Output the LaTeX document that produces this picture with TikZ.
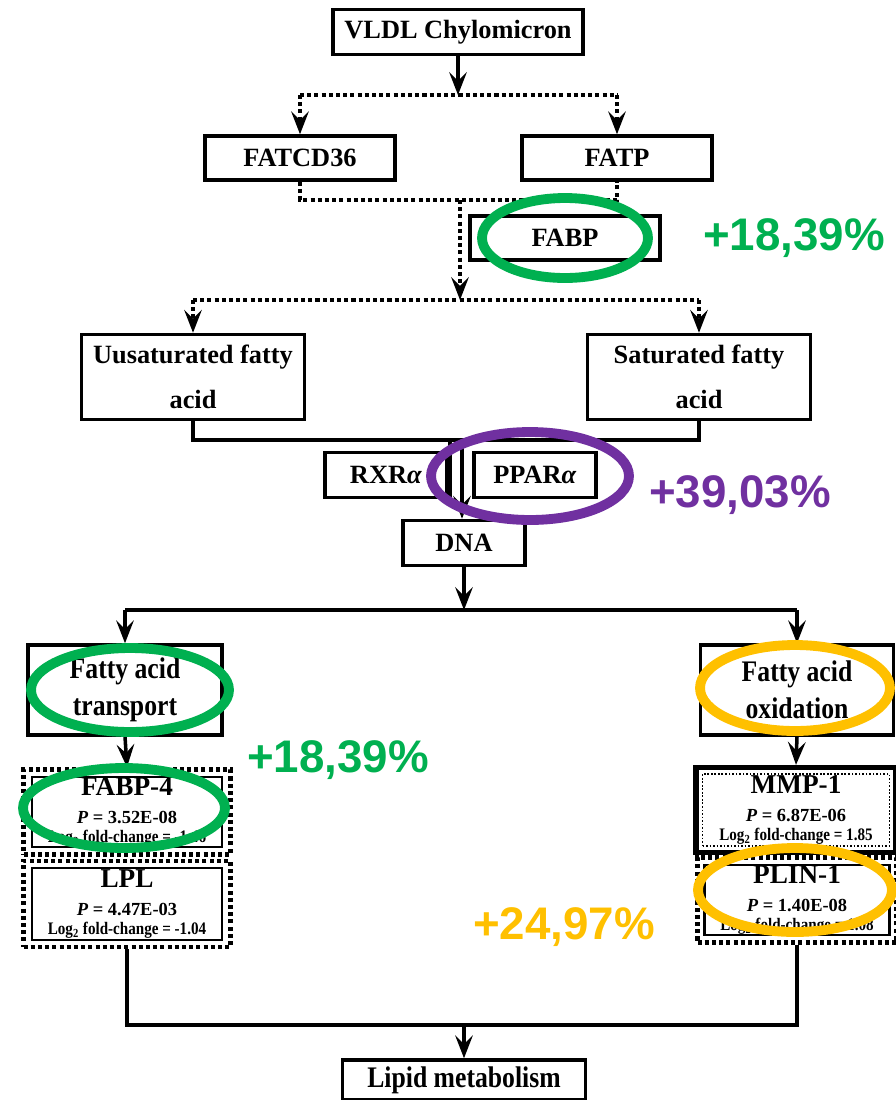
\documentclass[tikz,border=0pt]{standalone}
\usepackage{fontspec}
\setmainfont{Liberation Serif}
\newfontfamily\narrowfont[FakeStretch=0.86]{Liberation Serif}
\newfontfamily\pctfont{Liberation Sans}
\usetikzlibrary{arrows.meta}

\definecolor{ringgreen}{RGB}{0,176,80}
\definecolor{ringpurple}{RGB}{112,48,160}
\definecolor{ringorange}{RGB}{255,192,0}

\tikzset{
	box/.style={draw, line width=2pt, inner sep=0pt, align=center, font=\bfseries\fontsize{15}{18}\selectfont},
	narrowbox/.style={box, font=\narrowfont\bfseries\fontsize{17}{20}\selectfont},
	genebox/.style={box, line width=1.2pt, font=\bfseries\fontsize{10.5}{10}\selectfont},
	dotline/.style={line width=2.6pt, dash pattern=on 2.3pt off 1.8pt},
	arr/.style={-{Stealth[length=13pt,width=10pt,inset=5pt]}},
	ring/.style={line width=5.6pt},
	pct/.style={font=\pctfont\bfseries\fontsize{26}{30}\selectfont},
}

\newcommand{\genetext}[3]{{\fontsize{15.5}{10}\selectfont #1}\\[6pt]%
	\textit{P} = #2\\[1pt]%
	{\narrowfont\bfseries\fontsize{10}{10}\selectfont Log\textsubscript{2} fold-change = #3}}

\begin{document}
\begin{tikzpicture}[x=0.02cm, y=-0.02cm, line width=2pt]
		\useasboundingbox (0,0) rectangle (896,1100);
		
		% upper chain
		\node[box, minimum width=5cm, minimum height=0.9cm] (vldl) at (458,32) {VLDL Chylomicron};
		\node[box, minimum width=3.8cm, minimum height=0.88cm] (fatcd) at (300,158) {FATCD36};
		\node[box, minimum width=3.8cm, minimum height=0.88cm] (fatp) at (617,158) {FATP};
		\node[box, minimum width=3.8cm, minimum height=0.88cm] (fabp) at (565,238) {FABP};
		\node[box, minimum width=4.46cm, minimum height=1.7cm] (unsat) at (193,377) {Uusaturated fatty\\[8pt]acid};
		\node[box, minimum width=4.46cm, minimum height=1.7cm] (sat) at (699,377) {Saturated fatty\\[8pt]acid};
		\node[box, minimum width=2.44cm, minimum height=0.9cm] (rxr) at (386,475) {RXR\textit{α}};
		\node[box, minimum width=2.44cm, minimum height=0.9cm] (ppar) at (535,475) {PPAR\textit{α}};
		\node[box, minimum width=2.44cm, minimum height=0.9cm] (dna) at (464,543) {DNA};
		
		% lower part
		\node[narrowbox, minimum width=3.88cm, minimum height=1.8cm] (trans) at (125,690) {Fatty acid\\[1pt]transport};
		\node[narrowbox, minimum width=3.86cm, minimum height=1.8cm] (oxid) at (797,690) {Fatty acid\\[1pt]oxidation};
		
		\node[draw, dotline, minimum width=4.14cm, minimum height=1.7cm] (fabp4o) at (127,812) {};
		\node[genebox, minimum width=3.8cm, minimum height=1.38cm] (fabp4) at (127,812) {\genetext{FABP-4}{3.52E-08}{-1.46}};
		\node[draw, dotline, minimum width=4.14cm, minimum height=1.72cm] (lplo) at (127,904) {};
		\node[genebox, minimum width=3.8cm, minimum height=1.44cm] (lpl) at (127,904) {\genetext{LPL}{4.47E-03}{-1.04}};
		
		\node[draw, line width=3pt, minimum width=4cm, minimum height=1.7cm] (mmp1o) at (796,810) {};
		\node[genebox, line width=1pt, dash pattern=on 1pt off 1pt, minimum width=3.74cm, minimum height=1.44cm] (mmp1) at (796,810) {\genetext{MMP-1}{6.87E-06}{1.85}};
		\node[draw, dotline, minimum width=3.98cm, minimum height=1.7cm] (plin1o) at (797,900) {};
		\node[genebox, minimum width=3.7cm, minimum height=1.4cm] (plin1) at (797,900) {\genetext{PLIN-1}{1.40E-08}{1.08}};
		
		\node[narrowbox, minimum width=4.86cm, minimum height=0.8cm] (lipid) at (464,1080) {Lipid metabolism};
		
		\coordinate (top split) at (458,95);
		\coordinate (fat join) at (460,200);
		\coordinate (acid split) at (460,300);
		\coordinate (acid join) at (462,440);
		\coordinate (rxr link) at (450,500);
		\coordinate (dna split) at (464,610);
		\coordinate (lipid join) at (464,1025);
		
		% connectors
		\draw[arr] (vldl.south) -- (top split);
		\draw[dotline] (fatcd.north |- top split) -- (fatp.north |- top split);
		\draw[dotline, arr] (fatcd.north |- top split) -- (fatcd.north);
		\draw[dotline, arr] (fatp.north |- top split) -- (fatp.north);
		\draw[dotline] (fatcd.south) -- (fatcd.south |- fat join) -- (fatp.south |- fat join) -- (fatp.south);
		\draw[dotline, arr] (fat join) -- (acid split);
		\draw[dotline] (unsat.north |- acid split) -- (sat.north |- acid split);
		\draw[dotline, arr] (unsat.north |- acid split) -- (unsat.north);
		\draw[dotline, arr] (sat.north |- acid split) -- (sat.north);
		
		\draw (unsat.south) -- (unsat.south |- acid join) -- (sat.south |- acid join) -- (sat.south);
		\draw (rxr link |- acid join) -- (rxr link);
		\draw[arr] (acid join) -- (acid join |- dna.north);
		
		\draw[arr] (dna.south) -- (dna split);
		\draw (trans.north |- dna split) -- (oxid.north |- dna split);
		\draw[arr] (trans.north |- dna split) -- (trans.north);
		\draw[arr] (oxid.north |- dna split) -- (oxid.north);
		\draw[arr] (trans.south) -- (fabp4o.north);
		\draw[arr] (oxid.south) -- (mmp1o.north);
		
		\draw (lplo.south) -- (lplo.south |- lipid join) -- (plin1o.south |- lipid join) -- (plin1o.south);
		\draw[arr] (lipid join) -- (lipid.north);
		
		% highlights
		\draw[ring, ringgreen] (565,238) ellipse [x radius=1.66cm, y radius=0.8cm];
		\draw[ring, ringpurple] (530,476) ellipse [x radius=1.98cm, y radius=0.88cm];
		\draw[ring, ringgreen] (130,690) ellipse [x radius=1.98cm, y radius=0.84cm];
		\draw[ring, ringorange] (795,688) ellipse [x radius=1.9cm, y radius=0.86cm];
		\draw[ring, ringgreen] (124,808) ellipse [x radius=2.02cm, y radius=0.8cm];
		\draw[ring, ringorange] (795,890) ellipse [x radius=1.94cm, y radius=0.84cm];
		
		\node[pct, text=ringgreen] (fabp pct) at (794,238) {+18,39\%};
		\node[pct, text=ringpurple] (ppar pct) at (740,495) {+39,03\%};
		\node[pct, text=ringgreen] (trans pct) at (338,760) {+18,39\%};
		\node[pct, text=ringorange] (oxid pct) at (564,927) {+24,97\%};
	\end{tikzpicture}
\end{document}
